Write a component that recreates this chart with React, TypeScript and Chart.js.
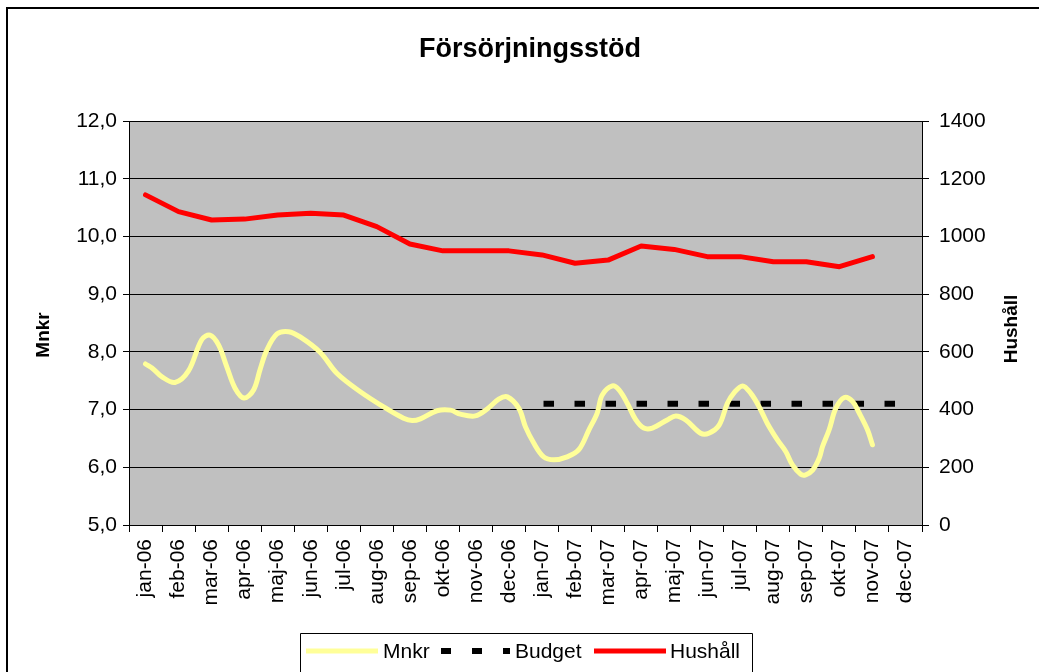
import React, { useEffect, useRef } from "react";
import { Chart, registerables } from "chart.js";

Chart.register(...registerables);

const months = [
  "jan-06", "feb-06", "mar-06", "apr-06", "maj-06", "jun-06", "jul-06", "aug-06", "sep-06", "okt-06", "nov-06", "dec-06",
  "jan-07", "feb-07", "mar-07", "apr-07", "maj-07", "jun-07", "jul-07", "aug-07", "sep-07", "okt-07", "nov-07", "dec-07",
];

const hushall = [
  1144, 1086, 1057, 1060, 1074, 1080, 1074, 1034, 974, 950, 950, 950,
  936, 907, 918, 967, 955, 930, 930, 912, 912, 895, 930, null,
];

const budget = [
  null, null, null, null, null, null, null, null, null, null, null, null,
  7.1, 7.1, 7.1, 7.1, 7.1, 7.1, 7.1, 7.1, 7.1, 7.1, 7.1, 7.1,
];

// Mnkr readings: position in months from jan-06 (0 = jan-06) and value
const mnkrMonth = [
  0, 0.24, 0.49, 0.89, 1.3, 1.7, 1.95, 2.21, 2.46, 2.71, 2.98, 3.27, 3.47, 3.67, 3.98, 4.33, 4.68, 5.29, 5.79, 6.5,
  7.31, 7.81, 8.07, 8.32, 8.82, 9.23, 9.53, 9.98, 10.34, 10.69, 10.95, 11.3, 11.5, 11.75, 12.05, 12.36, 12.76, 13.12,
  13.42, 13.67, 13.82, 14.13, 14.33, 14.58, 14.83, 15.08, 15.34, 15.79, 16.05, 16.35, 16.8, 17.05, 17.36, 17.61, 17.81,
  18.07, 18.32, 18.57, 18.82, 19.13, 19.38, 19.58, 19.83, 19.98, 20.19, 20.39, 20.49, 20.69, 20.89, 21.15, 21.4, 21.6,
  21.85, 22.0,
];
const mnkrValue = [
  7.79, 7.7, 7.57, 7.47, 7.67, 8.21, 8.29, 8.12, 7.74, 7.37, 7.2, 7.34, 7.7, 8.03, 8.31, 8.35, 8.26, 7.99, 7.63, 7.31,
  7.01, 6.85, 6.81, 6.84, 6.98, 6.99, 6.92, 6.89, 7.01, 7.18, 7.22, 7.02, 6.7, 6.42, 6.18, 6.13, 6.18, 6.31,
  6.65, 6.94, 7.25, 7.41, 7.34, 7.11, 6.83, 6.68, 6.68, 6.82, 6.89, 6.82, 6.59, 6.59, 6.73, 7.11, 7.29,
  7.41, 7.28, 7.05, 6.76, 6.47, 6.27, 6.04, 5.88, 5.87, 5.95, 6.16, 6.36, 6.65, 7.02, 7.21, 7.14, 6.94,
  6.65, 6.39,
];

const titleText = "Försörjningsstöd";
const leftTitle = "Mnkr";
const rightTitle = "Hushåll";
const seriesNames = ["Mnkr", "Budget", "Hushåll"];

const FONT = "'Liberation Sans', Arial, sans-serif";
const YELLOW = "#FFFF99";
const RED = "#FF0000";

export default function App() {
  const ref = useRef<HTMLCanvasElement | null>(null);

  useEffect(() => {
    const canvas = ref.current;
    if (!canvas) return;

    const decor = {
      id: "decor",
      beforeDraw(chart: any) {
        const { ctx, chartArea } = chart;
        ctx.save();
        ctx.fillStyle = "#FFFFFF";
        ctx.fillRect(0, 0, chart.width, chart.height);
        ctx.fillStyle = "#C0C0C0";
        ctx.fillRect(chartArea.left, chartArea.top, chartArea.right - chartArea.left, chartArea.bottom - chartArea.top);
        ctx.restore();
      },
      afterDraw(chart: any) {
        const { ctx, chartArea } = chart;
        ctx.save();
        // outer frame
        ctx.strokeStyle = "#000";
        ctx.lineWidth = 2;
        ctx.beginPath();
        ctx.moveTo(7, 680);
        ctx.lineTo(7, 8);
        ctx.lineTo(1045, 8);
        ctx.stroke();

        // title
        ctx.fillStyle = "#000";
        ctx.font = `bold 27px ${FONT}`;
        ctx.textAlign = "center";
        ctx.textBaseline = "alphabetic";
        ctx.fillText(titleText, 530, 57);

        // axis titles
        const midY = (chartArea.top + chartArea.bottom) / 2;
        ctx.font = `bold 19px ${FONT}`;
        ctx.textBaseline = "middle";
        ctx.save();
        ctx.translate(44, midY + 12);
        ctx.rotate(-Math.PI / 2);
        ctx.fillText(leftTitle, 0, 0);
        ctx.restore();
        ctx.save();
        ctx.translate(1012, midY + 6);
        ctx.rotate(-Math.PI / 2);
        ctx.fillText(rightTitle, 0, 0);
        ctx.restore();

        // legend
        ctx.lineWidth = 1;
        ctx.strokeStyle = "#000";
        ctx.beginPath();
        ctx.moveTo(300.5, 690);
        ctx.lineTo(300.5, 633.5);
        ctx.lineTo(752.5, 633.5);
        ctx.lineTo(752.5, 690);
        ctx.stroke();

        const ly = 651;
        ctx.lineCap = "butt";
        ctx.lineWidth = 5;
        ctx.strokeStyle = YELLOW;
        ctx.beginPath();
        ctx.moveTo(306, ly);
        ctx.lineTo(378, ly);
        ctx.stroke();

        ctx.lineWidth = 6;
        ctx.strokeStyle = "#000";
        ctx.setLineDash([10, 21]);
        ctx.beginPath();
        ctx.moveTo(441, ly);
        ctx.lineTo(510, ly);
        ctx.stroke();
        ctx.setLineDash([]);

        ctx.lineWidth = 5;
        ctx.strokeStyle = RED;
        ctx.beginPath();
        ctx.moveTo(594, ly);
        ctx.lineTo(666, ly);
        ctx.stroke();

        ctx.fillStyle = "#000";
        ctx.font = `21px ${FONT}`;
        ctx.textAlign = "left";
        ctx.textBaseline = "middle";
        ctx.fillText(seriesNames[0], 383, ly + 1);
        ctx.fillText(seriesNames[1], 515, ly + 1);
        ctx.fillText(seriesNames[2], 670, ly + 1);
        ctx.restore();
      },
    };

    const tickFont = { family: FONT, size: 21 };

    const chart = new Chart(canvas, {
      type: "line",
      data: {
        labels: months,
        datasets: [
          {
            label: seriesNames[0],
            data: mnkrMonth.map((m, i) => ({ x: m, y: mnkrValue[i] })),
            xAxisID: "xv",
            yAxisID: "y",
            borderColor: YELLOW,
            borderWidth: 5,
            tension: 0.35,
            pointRadius: 0,
            borderCapStyle: "round",
            borderJoinStyle: "round",
            fill: false,
          } as any,
          {
            label: seriesNames[1],
            data: budget,
            xAxisID: "x",
            yAxisID: "y",
            borderColor: "#000000",
            borderWidth: 6,
            borderDash: [10.5, 20.5],
            borderDashOffset: -1.5,
            borderCapStyle: "butt",
            pointRadius: 0,
            tension: 0,
            fill: false,
          },
          {
            label: seriesNames[2],
            data: hushall,
            xAxisID: "x",
            yAxisID: "y1",
            borderColor: RED,
            borderWidth: 5,
            borderCapStyle: "round",
            borderJoinStyle: "round",
            pointRadius: 0,
            tension: 0,
            fill: false,
          },
        ],
      },
      options: {
        responsive: false,
        animation: false,
        devicePixelRatio: 1,
        layout: { padding: { top: 121, left: 0, right: 0, bottom: 0 } },
        plugins: {
          legend: { display: false },
          title: { display: false },
          tooltip: { enabled: false },
        },
        scales: {
          x: {
            type: "category",
            position: "bottom",
            offset: true,
            grid: {
              offset: true,
              drawOnChartArea: false,
              drawTicks: true,
              tickLength: 7,
              color: "#000",
              lineWidth: 1,
            },
            border: { display: true, color: "#000", width: 1 },
            ticks: {
              autoSkip: false,
              maxRotation: 90,
              minRotation: 90,
              padding: 7,
              color: "#000",
              font: tickFont,
            },
            afterFit(scale: any) {
              scale.height = 672 - 525;
            },
          },
          xv: {
            type: "linear",
            position: "bottom",
            display: false,
            min: -0.5,
            max: 23.5,
          },
          y: {
            type: "linear",
            position: "left",
            min: 5,
            max: 12,
            ticks: {
              stepSize: 1,
              padding: 6,
              color: "#000",
              font: tickFont,
              callback: (v: any) => Number(v).toFixed(1).replace(".", ","),
            },
            grid: { color: "#000", lineWidth: 1, tickLength: 6, drawTicks: true },
            border: { display: true, color: "#000", width: 1 },
            afterFit(scale: any) {
              scale.width = 129;
            },
          },
          y1: {
            type: "linear",
            position: "right",
            min: 0,
            max: 1400,
            ticks: {
              stepSize: 200,
              padding: 10,
              color: "#000",
              font: tickFont,
              callback: (v: any) => String(Math.round(Number(v))),
            },
            grid: { drawOnChartArea: false, color: "#000", lineWidth: 1, tickLength: 7, drawTicks: true },
            border: { display: true, color: "#000", width: 1 },
            afterFit(scale: any) {
              scale.width = 1039 - 922;
            },
          },
        },
      },
      plugins: [decor],
    });

    return () => {
      chart.destroy();
    };
  }, []);

  return (
    <div style={{ position: "fixed", left: 0, top: 0, width: 1039, height: 672, background: "#fff" }}>
      <canvas ref={ref} width={1039} height={672} style={{ display: "block", width: 1039, height: 672 }} />
    </div>
  );
}
